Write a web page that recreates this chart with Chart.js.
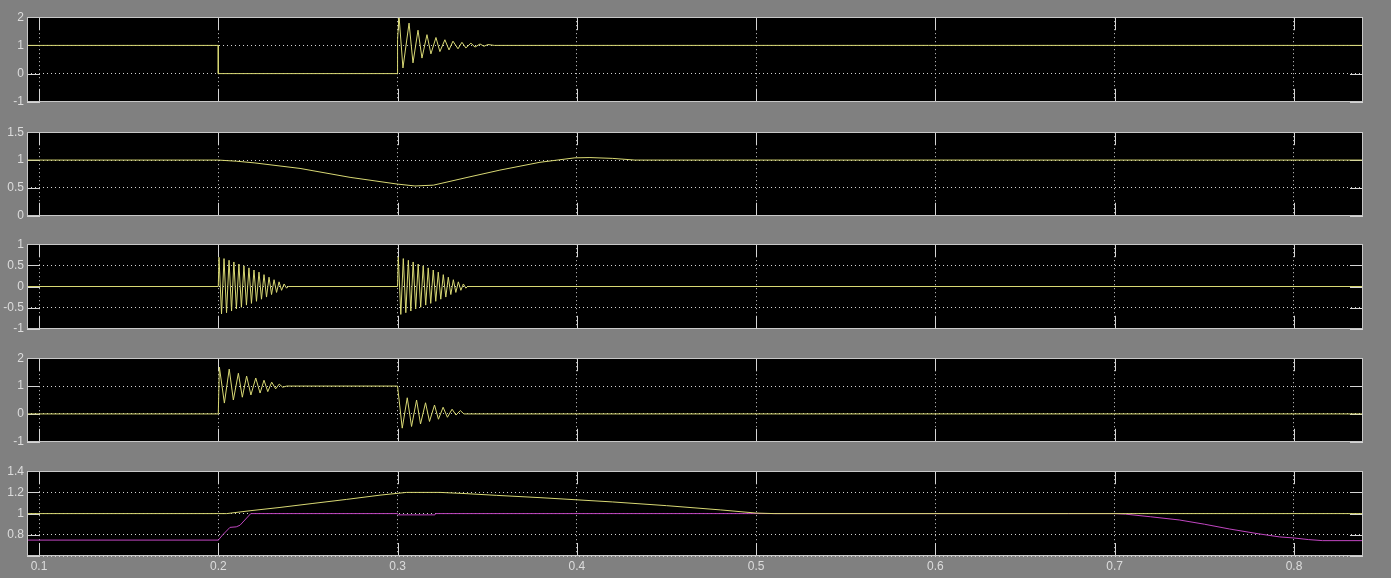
<!DOCTYPE html>
<html>
<head>
<meta charset="utf-8">
<script src="https://cdn.jsdelivr.net/npm/chart.js@4.4.1/dist/chart.umd.min.js"></script>
<style>
  html, body { margin: 0; padding: 0; background: #808080; width: 1391px; height: 578px; overflow: hidden; }
  .panel { position: absolute; left: 0; width: 1391px; }
</style>
</head>
<body>
<div class="panel" id="w1" style="top:7px;height:105px"><canvas id="c1"></canvas></div>
<div class="panel" id="w2" style="top:122px;height:104px"><canvas id="c2"></canvas></div>
<div class="panel" id="w3" style="top:234px;height:105px"><canvas id="c3"></canvas></div>
<div class="panel" id="w4" style="top:348px;height:104px"><canvas id="c4"></canvas></div>
<div class="panel" id="w5" style="top:461px;height:117px"><canvas id="c5"></canvas></div>
<script>
// Time axis (s)
const timeMin = 0.0933;
const timeMax = 0.8385;
const timeTicks = [0.1, 0.2, 0.3, 0.4, 0.5, 0.6, 0.7, 0.8];

// Y tick values per scope
const yTicks1 = [-1, 0, 1, 2];
const yTicks2 = [0, 0.5, 1, 1.5];
const yTicks3 = [-1, -0.5, 0, 0.5, 1];
const yTicks4 = [-1, 0, 1, 2];
const yTicks5 = [0.6, 0.8, 1, 1.2, 1.4];
const yLabels5 = ['', '0.8', '1', '1.2', '1.4'];

// Scope 1: breaker state with ringing on reclose
const s1Time = [0.0933, 0.2, 0.2, 0.3, 0.3, 0.3008, 0.3030, 0.3064, 0.3086, 0.3114, 0.3136, 0.3164, 0.3186,
  0.3214, 0.3236, 0.3264, 0.3287, 0.3309, 0.3337, 0.3359, 0.3381, 0.3409, 0.3432, 0.3460, 0.3482, 0.3504, 0.3540, 0.8385];
const s1Value = [1, 1, 0, 0, 1.2, 2.05, 0.2, 1.79, 0.38, 1.54, 0.55, 1.38, 0.7,
  1.28, 0.78, 1.2, 0.84, 1.15, 0.88, 1.11, 0.91, 1.08, 0.94, 1.05, 0.97, 1.03, 1, 1];

// Scope 2: voltage magnitude sag and recovery
const s2Time = [0.0933, 0.2, 0.21, 0.22, 0.2456, 0.2735, 0.2997, 0.3097, 0.32, 0.3404, 0.3571, 0.3794,
  0.3989, 0.4073, 0.42, 0.4324, 0.8385];
const s2Value = [1, 1, 0.98, 0.95, 0.85, 0.69, 0.57, 0.535, 0.55, 0.70, 0.82, 0.96,
  1.04, 1.045, 1.03, 1.0, 1.0];

// Scope 3: transient current, two decaying bursts
const s3Time = [0.0933, 0.2, 0.2004, 0.2018, 0.2032, 0.2046, 0.2060, 0.2074, 0.2087, 0.2101, 0.2115, 0.2129, 0.2143, 0.2157,
  0.2171, 0.2185, 0.2199, 0.2213, 0.2227, 0.2241, 0.2255, 0.2269, 0.2283, 0.2297, 0.2311, 0.2325, 0.2339, 0.2353, 0.2367, 0.2381, 0.239,
  0.3, 0.3004, 0.3018, 0.3032, 0.3046, 0.3060, 0.3074, 0.3087, 0.3101, 0.3115, 0.3129, 0.3143, 0.3157,
  0.3171, 0.3185, 0.3199, 0.3213, 0.3227, 0.3241, 0.3255, 0.3269, 0.3283, 0.3297, 0.3311, 0.3325, 0.3339, 0.3353, 0.3367, 0.3381, 0.339, 0.8385];
const s3Value = [0, 0, 0.69, -0.65, 0.66, -0.62, 0.62, -0.58, 0.58, -0.53, 0.53, -0.49, 0.49, -0.44,
  0.44, -0.40, 0.39, -0.35, 0.34, -0.30, 0.28, -0.25, 0.22, -0.19, 0.16, -0.14, 0.11, -0.09, 0.06, -0.04, 0,
  0, 0.70, -0.66, 0.66, -0.62, 0.62, -0.58, 0.58, -0.53, 0.53, -0.49, 0.49, -0.44,
  0.44, -0.40, 0.39, -0.35, 0.34, -0.30, 0.28, -0.25, 0.22, -0.19, 0.16, -0.14, 0.11, -0.09, 0.06, -0.04, 0, 0];

// Scope 4: line current, step up with ringing then step down with ringing
const s4Time = [0.0933, 0.2, 0.2006, 0.2034, 0.2061, 0.2084, 0.2112, 0.2134, 0.2158, 0.2182, 0.2209, 0.2233, 0.2255, 0.2276,
  0.2298, 0.2320, 0.2340, 0.2359, 0.2382,
  0.3, 0.3004, 0.3026, 0.3054, 0.3078, 0.3106, 0.3128, 0.3156, 0.3178, 0.3206, 0.3228, 0.3254, 0.3278, 0.3304, 0.3326, 0.3350, 0.3370, 0.339, 0.8385];
const s4Value = [0, 0, 1.68, 0.39, 1.61, 0.5, 1.46, 0.6, 1.36, 0.68, 1.29, 0.75, 1.21, 0.8,
  1.14, 0.9, 1.07, 0.96, 1,
  1, 0.76, -0.51, 0.58, -0.45, 0.5, -0.36, 0.4, -0.27, 0.32, -0.19, 0.24, -0.12, 0.17, -0.04, 0.12, 0, 0, 0];

// Scope 5: speed (yellow) and reference (magenta)
const s5aTime = [0.0933, 0.2, 0.2047, 0.2177, 0.2344, 0.2528, 0.2716, 0.2902, 0.305, 0.3236, 0.3365, 0.3553,
  0.38, 0.4, 0.42, 0.45, 0.48, 0.5, 0.51, 0.8385];
const s5aValue = [1, 1, 1.0, 1.027, 1.058, 1.096, 1.134, 1.174, 1.2, 1.2, 1.19, 1.172,
  1.15, 1.13, 1.11, 1.075, 1.035, 1.005, 1.0, 1.0];
const s5bTime = [0.0933, 0.2, 0.2025, 0.2065, 0.21, 0.2121, 0.2181, 0.3, 0.3004, 0.3208, 0.3212,
  0.7, 0.706, 0.72, 0.736, 0.75, 0.764, 0.78, 0.792, 0.8, 0.808, 0.816, 0.8385];
const s5bValue = [0.75, 0.75, 0.80, 0.87, 0.875, 0.89, 1.0, 1.0, 0.988, 0.988, 1.0,
  1.0, 0.995, 0.97, 0.94, 0.9, 0.855, 0.81, 0.78, 0.77, 0.755, 0.745, 0.745];

const zip = (t, v) => t.map((x, i) => ({ x, y: v[i] }));

const TRACE = '#d8d874';
const TRACE2 = '#c046c0';
const GRID = '#d4d4d4';
const TEXT = '#dcdcdc';
const FONT = { family: 'Liberation Sans, Arial, sans-serif', size: 12 };

// Black plot area, frame around it and short solid tick marks along the inside edges
const scopeFrame = {
  id: 'scopeFrame',
  beforeDraw(chart) {
    const { ctx, chartArea: a } = chart;
    ctx.save();
    ctx.fillStyle = '#000000';
    ctx.fillRect(a.left, a.top, a.right - a.left, a.bottom - a.top);
    ctx.restore();
  },
  beforeDatasetsDraw(chart) {
    const { ctx, chartArea: a, scales } = chart;
    const L = 13;
    ctx.save();
    ctx.strokeStyle = GRID;
    ctx.lineWidth = 1;
    ctx.beginPath();
    scales.x.ticks.forEach(t => {
      const px = Math.round(scales.x.getPixelForValue(t.value)) + 0.5;
      ctx.moveTo(px, a.top); ctx.lineTo(px, a.top + L);
      ctx.moveTo(px, a.bottom); ctx.lineTo(px, a.bottom - L);
    });
    scales.y.ticks.forEach(t => {
      const py = Math.round(scales.y.getPixelForValue(t.value)) + 0.5;
      ctx.moveTo(a.left, py); ctx.lineTo(a.left + L, py);
      ctx.moveTo(a.right, py); ctx.lineTo(a.right - L, py);
    });
    ctx.stroke();
    ctx.restore();
  },
  afterDraw(chart) {
    const { ctx, chartArea: a } = chart;
    ctx.save();
    ctx.strokeStyle = '#c8c8c8';
    ctx.lineWidth = 1;
    ctx.strokeRect(Math.round(a.left) + 0.5, Math.round(a.top) + 0.5,
      Math.round(a.right - a.left) - 1, Math.round(a.bottom - a.top) - 1);
    ctx.restore();
  }
};

Chart.register(scopeFrame);

function makeScope(id, datasets, yTicks, yMin, yMax, opts) {
  const showX = !!opts.showX;
  const yLabels = opts.yLabels || yTicks.map(v => String(v));
  return new Chart(document.getElementById(id), {
    type: 'line',
    data: { datasets },
    options: {
      responsive: true,
      maintainAspectRatio: false,
      animation: false,
      events: [],
      layout: { padding: { top: 10, bottom: showX ? 0 : 10, left: 0, right: 28 } },
      plugins: { legend: { display: false }, tooltip: { enabled: false } },
      elements: { point: { radius: 0 }, line: { tension: 0, borderWidth: 1 } },
      scales: {
        x: {
          type: 'linear',
          min: timeMin,
          max: timeMax,
          afterBuildTicks: s => { s.ticks = timeTicks.map(v => ({ value: v })); },
          afterFit: s => { s.height = showX ? 22 : 0; },
          grid: { color: GRID, lineWidth: 1, drawTicks: false },
          border: { display: false, dash: [1, 3] },
          ticks: {
            display: showX,
            color: TEXT,
            font: FONT,
            padding: 3,
            maxRotation: 0,
            autoSkip: false,
            callback: v => String(v)
          }
        },
        y: {
          type: 'linear',
          min: yMin,
          max: yMax,
          afterBuildTicks: s => { s.ticks = yTicks.map(v => ({ value: v })); },
          afterFit: s => { s.width = 27; },
          grid: { color: GRID, lineWidth: 1, drawTicks: false },
          border: { display: false, dash: [1, 3] },
          ticks: {
            color: TEXT,
            font: FONT,
            padding: 3,
            autoSkip: false,
            callback: (v, i) => yLabels[i]
          }
        }
      }
    }
  });
}

const line = (t, v, color) => ({ data: zip(t, v), borderColor: color, borderWidth: 1, pointRadius: 0, fill: false });

makeScope('c1', [line(s1Time, s1Value, TRACE)], yTicks1, -1, 2, {});
makeScope('c2', [line(s2Time, s2Value, TRACE)], yTicks2, 0, 1.5, {});
makeScope('c3', [line(s3Time, s3Value, TRACE)], yTicks3, -1, 1, {});
makeScope('c4', [line(s4Time, s4Value, TRACE)], yTicks4, -1, 2, {});
makeScope('c5', [line(s5aTime, s5aValue, TRACE), line(s5bTime, s5bValue, TRACE2)], yTicks5, 0.6, 1.4,
  { showX: true, yLabels: yLabels5 });
</script>
</body>
</html>
